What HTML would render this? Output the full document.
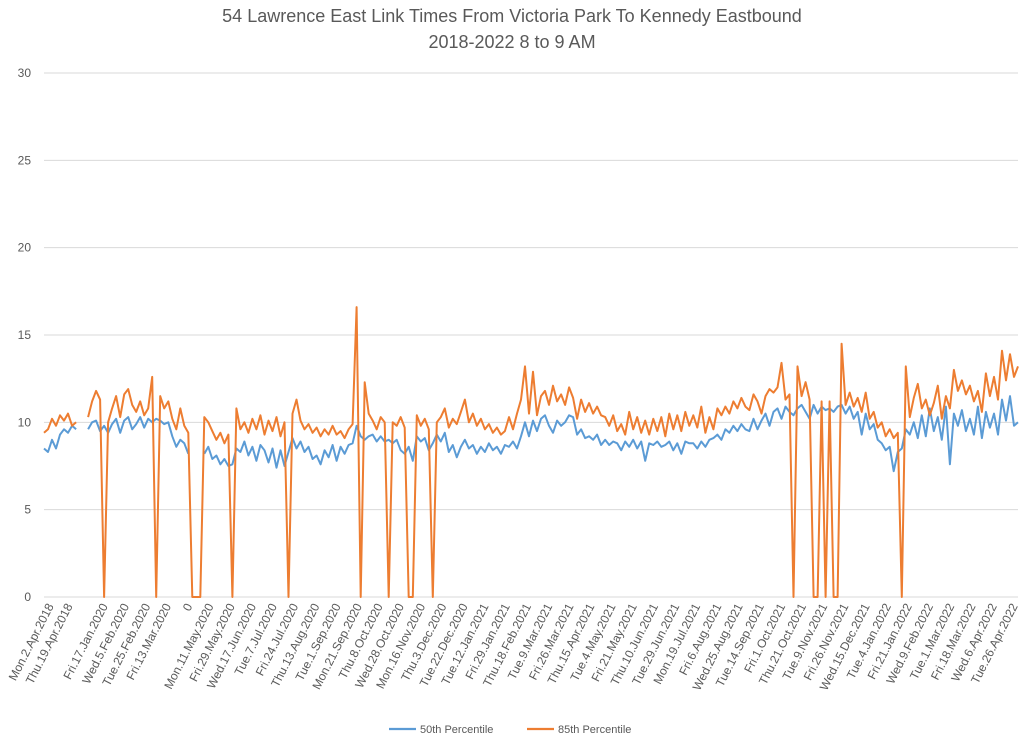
<!DOCTYPE html>
<html><head><meta charset="utf-8">
<style>
body{margin:0;background:#fff;}
svg{display:block;font-family:"Liberation Sans",sans-serif;}
</style></head>
<body>
<svg id="chart" width="1024" height="744" viewBox="0 0 1024 744">
<text x="512" y="22" text-anchor="middle" font-size="18" fill="#595959">54 Lawrence East Link Times From Victoria Park To Kennedy Eastbound</text>
<text x="512" y="48" text-anchor="middle" font-size="18" fill="#595959">2018-2022 8 to 9 AM</text>
<g id="grid"></g>
<g id="yaxis"></g>
<g id="xaxis"></g>
<g id="series"></g>
<g>
<g>
<line x1="389" y1="729" x2="416" y2="729" stroke="#5b9bd5" stroke-width="2.2"/>
<text x="420" y="733" font-size="11" fill="#595959">50th Percentile</text>
</g>
<g>
<line x1="527" y1="729" x2="554" y2="729" stroke="#ed7d31" stroke-width="2.2"/>
<text x="558" y="733" font-size="11" fill="#595959">85th Percentile</text>
</g>
</g>
</svg>
<script>
const yTicks = [0,5,10,15,20,25,30];
const xLabels = ["Mon.2.Apr.2018","Thu.19.Apr.2018","Fri.17.Jan.2020","Wed.5.Feb.2020","Tue.25.Feb.2020","Fri.13.Mar.2020","0","Mon.11.May.2020","Fri.29.May.2020","Wed.17.Jun.2020","Tue.7.Jul.2020","Fri.24.Jul.2020","Thu.13.Aug.2020","Tue.1.Sep.2020","Mon.21.Sep.2020","Thu.8.Oct.2020","Wed.28.Oct.2020","Mon.16.Nov.2020","Thu.3.Dec.2020","Tue.22.Dec.2020","Tue.12.Jan.2021","Fri.29.Jan.2021","Thu.18.Feb.2021","Tue.9.Mar.2021","Fri.26.Mar.2021","Thu.15.Apr.2021","Tue.4.May.2021","Fri.21.May.2021","Thu.10.Jun.2021","Tue.29.Jun.2021","Mon.19.Jul.2021","Fri.6.Aug.2021","Wed.25.Aug.2021","Tue.14.Sep.2021","Fri.1.Oct.2021","Thu.21.Oct.2021","Tue.9.Nov.2021","Fri.26.Nov.2021","Wed.15.Dec.2021","Tue.4.Jan.2022","Fri.21.Jan.2022","Wed.9.Feb.2022","Tue.1.Mar.2022","Fri.18.Mar.2022","Wed.6.Apr.2022","Tue.26.Apr.2022"];
const xLabelIdx = [1.5,6.2,15,20.3,25.6,30.8,36.1,41.4,46.7,52,57.2,62.5,67.8,73.1,78.4,83.6,88.9,94.2,99.5,104.8,110,115.3,120.6,125.9,131.2,136.4,141.7,147,152.3,157.6,162.8,168.1,173.4,178.7,184,189.2,194.5,199.8,205.1,210.4,215.6,220.9,226.2,231.5,236.8,242];
const p85 = [9.4,9.6,10.2,9.8,10.4,10.1,10.5,9.8,10.0,
null,null,
10.3,11.2,11.8,11.3,0,10,10.8,11.5,10.3,11.6,11.9,11,10.6,11.2,10.4,10.8,12.6,0,
11.5,10.8,11.2,10.2,9.6,10.8,9.8,9.4,
0,0,0,
10.3,10,9.5,9.0,9.4,8.8,9.3,
0,
10.8,9.6,10,9.4,10.2,9.6,10.4,9.3,10.1,9.5,10.3,9.2,10.0,
0,
10.5,11.3,10.1,9.6,9.9,9.4,9.7,9.2,9.6,9.3,9.8,9.3,9.5,9.1,9.6,9.9,
16.6,0,12.3,10.5,
10.1,9.6,10.3,10,
0,
10,9.8,10.3,9.7,
0,0,
10.4,9.8,10.2,9.6,
0,
10,10.3,10.8,9.7,10.2,9.9,10.6,11.3,10,10.5,9.8,10.2,9.6,9.9,9.4,9.7,9.3,9.5,10.3,9.6,10.5,11.3,
13.2,10.5,12.9,10.4,11.5,
11.8,11,12.1,11.2,11.6,11,12,11.4,10.2,11.3,10.6,11.1,10.5,10.9,10.4,
10.3,9.8,10.4,9.5,9.9,9.3,10.6,9.6,10.3,9.4,10.1,9.3,10.2,9.5,10.3,9.2,10.5,9.6,10.4,9.5,10.6,9.8,
10.4,9.7,10.9,9.4,10.3,9.6,10.8,10.4,10.9,10.5,11.2,10.8,11.4,10.9,10.7,11.6,11.2,10.5,
11.5,11.9,11.7,12,13.4,11.3,11.6,
0,13.2,11.5,12.3,11.3,0,0,11.2,0,11.2,0,0,14.5,
11,11.7,10.9,11.4,10.6,11.7,10.2,10.6,9.7,10.0,9.2,9.6,
9.1,9.4,0,
13.2,10.3,11.4,12.2,10.8,11.3,10.4,11.1,12.1,10.2,11.5,10.8,13.0,11.8,12.4,11.6,12.1,11.2,11.8,10.6,12.8,11.5,12.6,11.3,14.1,12.4,13.9,12.6,13.2];
const p50 = [8.5,8.3,9,8.5,9.3,9.6,9.4,9.8,9.6,
null,null,
9.6,10,10.1,9.5,9.8,9.4,9.9,10.2,9.4,10.1,10.3,9.6,9.9,10.3,9.7,10.2,10,10.2,
10.1,9.9,10,9.2,8.6,9.0,8.8,8.2,
null,null,null,
8.2,8.6,7.9,8.1,7.6,7.9,7.5,
7.6,
8.5,8.3,8.9,8.1,8.6,7.8,8.7,8.4,7.7,8.5,7.4,8.4,7.5,
8.3,
9.1,8.5,8.9,8.3,8.6,7.9,8.1,7.6,8.4,8.0,8.7,7.8,8.6,8.2,8.7,8.8,
9.8,9.2,9.0,9.2,
9.3,8.9,9.2,8.9,
9.0,
8.8,9,8.4,8.2,
8.6,7.8,
9.2,8.9,9.1,8.4,
8.8,
9.3,8.9,9.4,8.3,8.7,8.0,8.6,9.0,8.5,8.7,8.2,8.6,8.3,8.8,8.4,8.6,8.2,8.7,8.6,8.9,8.5,9.2,
10,9.2,10.1,9.5,10.2,
10.4,9.8,9.4,10.1,9.8,10,10.4,10.3,9.3,9.6,9.1,9.2,9.0,9.3,8.7,
9.0,8.7,8.9,8.8,8.4,8.9,8.6,9.0,8.5,8.9,7.8,8.8,8.7,8.9,8.6,8.7,8.9,8.4,8.8,8.2,8.9,8.8,
8.8,8.5,8.9,8.6,9.0,9.1,9.3,9.0,9.6,9.4,9.8,9.5,9.9,9.6,9.5,10.2,9.6,10.1,
10.5,9.8,10.6,10.8,10.2,10.9,10.6,
10.4,10.8,11,10.6,10.2,11.0,10.5,10.9,10.7,10.8,10.6,10.9,11.0,
10.5,10.9,10.2,10.6,9.3,10.5,9.6,9.9,9,8.8,8.4,8.6,
7.2,8.3,8.5,
9.6,9.3,10,9.1,10.4,9.2,10.8,9.5,10.3,9.0,10.9,7.6,10.5,9.8,10.7,9.5,10.2,9.3,10.9,9.1,10.6,9.7,10.5,9.3,11.3,10.1,11.5,9.8,10.0];

const NS="http://www.w3.org/2000/svg";
const X0=44, X1=1018, Y0=597, Y1=73, YMAX=30;
const N=p85.length;
function xs(i){return X0 + i*(X1-X0)/(N-1);}
function ys(v){return Y0 - v*(Y0-Y1)/YMAX;}
function mk(tag,attrs,parent){const e=document.createElementNS(NS,tag);for(const k in attrs)e.setAttribute(k,attrs[k]);parent.appendChild(e);return e;}
const grid=document.getElementById('grid'), yax=document.getElementById('yaxis'), xax=document.getElementById('xaxis'), ser=document.getElementById('series');
yTicks.forEach(t=>{
  const l=mk('line',{x1:X0,x2:X1,y1:ys(t),y2:ys(t),stroke:'#d9d9d9','stroke-width':1},grid);
  
  
  const tx=mk('text',{x:31,y:ys(t)+4,'text-anchor':'end','font-size':12,fill:'#595959'},yax);
  tx.textContent=t;
  
  
});
xLabels.forEach((s,k)=>{
  const x=xs(xLabelIdx[k])+4, y=606;
  const tx=mk('text',{x:x,y:y,'text-anchor':'end','font-size':12,fill:'#595959',transform:`rotate(-63 ${x} ${y})`},xax);
  tx.textContent=s;
  
  
});
function draw(arr,color,name){
  let d='',pen=false;
  arr.forEach((v,i)=>{
    if(v===null){pen=false;return;}
    d+=(pen?'L':'M')+xs(i).toFixed(1)+' '+ys(v).toFixed(1)+' ';
    pen=true;
  });
  const p=mk('path',{d:d,fill:'none',stroke:color,'stroke-width':2,'stroke-linejoin':'round'},ser);
  
  
}
draw(p50,'#5b9bd5','line-50th-percentile');
draw(p85,'#ed7d31','line-85th-percentile');
</script>
</body></html>
